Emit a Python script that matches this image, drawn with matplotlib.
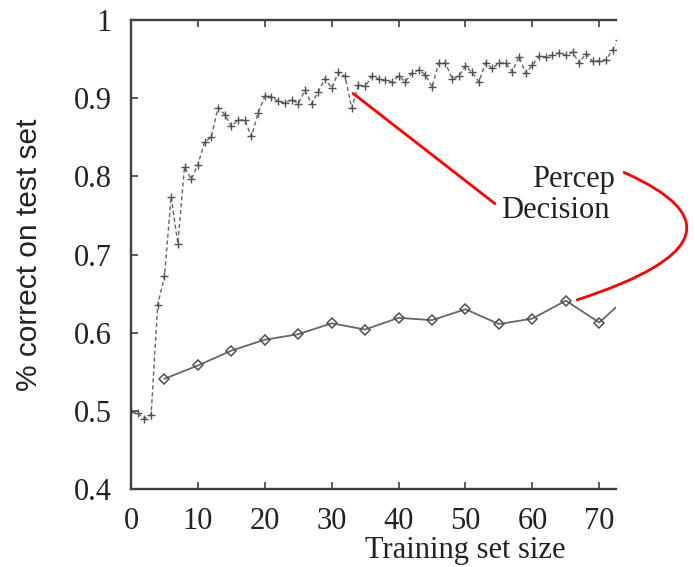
import numpy as np
import matplotlib
matplotlib.use('Agg')
import matplotlib.pyplot as plt

'''
data read off the reference
'''

# decision tree curve, one point per training set size
decision_x = list(range(0, 74))
decision_y = [0.499, 0.497, 0.490, 0.495, 0.636, 0.672, 0.774, 0.714, 0.812, 0.796,
              0.815, 0.844, 0.850, 0.888, 0.879, 0.864, 0.872, 0.872, 0.851, 0.881,
              0.903, 0.902, 0.896, 0.894, 0.898, 0.893, 0.910, 0.893, 0.908, 0.925,
              0.913, 0.933, 0.928, 0.887, 0.917, 0.915, 0.928, 0.925, 0.923, 0.921,
              0.928, 0.921, 0.932, 0.936, 0.930, 0.914, 0.945, 0.945, 0.925, 0.928,
              0.941, 0.933, 0.921, 0.945, 0.938, 0.945, 0.945, 0.934, 0.953, 0.932,
              0.942, 0.954, 0.953, 0.955, 0.958, 0.955, 0.959, 0.945, 0.957, 0.947,
              0.948, 0.949, 0.962, 0.975]

# perceptron curve, every 5 examples
percep_x = [5, 10, 15, 20, 25, 30, 35, 40, 45, 50, 55, 60, 65, 70, 75]
percep_y = [0.541, 0.558, 0.577, 0.591, 0.598, 0.612, 0.604, 0.619, 0.616, 0.630,
            0.611, 0.618, 0.641, 0.613, 0.652]

x_ticks = [0, 10, 20, 30, 40, 50, 60, 70]
y_ticks = [0.4, 0.5, 0.6, 0.7, 0.8, 0.9, 1.0]
y_tick_labels = ['0.4', '0.5', '0.6', '0.7', '0.8', '0.9', '1']

'''
figure
'''

serif = ['Liberation Serif', 'DejaVu Serif']
ink = '#222222'
gray = '#666666'

fig = plt.figure(figsize=(6.95, 5.67), dpi=100)
ax = fig.add_axes([131 / 695, 1 - 489 / 567, (616 - 131) / 695, (489 - 20) / 567])

ax.plot(decision_x, decision_y, linestyle=(0, (3, 2)), color=gray, linewidth=1.0,
        marker='+', markersize=6, markeredgewidth=1.0, markeredgecolor='#505050')
ax.plot(percep_x, percep_y, linestyle='-', color=gray, linewidth=1.3,
        marker='D', markersize=5.5, markerfacecolor='none', markeredgewidth=1.1,
        markeredgecolor='#505050')

ax.set_xlim(0, 72.5)
ax.set_ylim(0.4, 1.0)
ax.set_xticks(x_ticks)
ax.set_yticks(y_ticks)
ax.set_yticklabels(y_tick_labels)

for side in ['left', 'bottom', 'top']:
    ax.spines[side].set_color('#404040')
    ax.spines[side].set_linewidth(1.7)
ax.spines['right'].set_visible(False)

ax.tick_params(direction='in', top=True, right=False, length=5, width=1.2,
               color='#404040', labelcolor=ink, labelsize=22)
ax.tick_params(axis='x', pad=13)
ax.tick_params(axis='y', pad=14)
for lab in ax.get_xticklabels() + ax.get_yticklabels():
    lab.set_family(serif)

ax.set_xlabel('Training set size', fontsize=22, family=serif, color=ink)
ax.xaxis.set_label_coords(0.689, -0.1)
ax.set_ylabel('% correct on test set', fontsize=21.5, family=['Liberation Sans', 'DejaVu Sans'],
              color=ink)
ax.yaxis.set_label_coords(-0.182, 0.5)

# labels with red leader lines
ax.text(72.4, 0.786, 'Percep', fontsize=22, family=serif, color=ink,
        ha='right', va='baseline')
ax.text(71.6, 0.747, 'Decision', fontsize=22, family=serif, color=ink,
        ha='right', va='baseline')

ax.annotate('', xy=(33.2, 0.906), xytext=(54.4, 0.765), annotation_clip=False,
            arrowprops=dict(arrowstyle='-', color='red', linewidth=2.0,
                            shrinkA=0, shrinkB=0))
ax.annotate('', xy=(66.7, 0.642), xytext=(73.7, 0.805), annotation_clip=False,
            arrowprops=dict(arrowstyle='-', color='red', linewidth=2.0,
                            shrinkA=0, shrinkB=0,
                            connectionstyle='angle3,angleA=-24,angleB=18'))

fig.savefig('out.png', dpi=100)
